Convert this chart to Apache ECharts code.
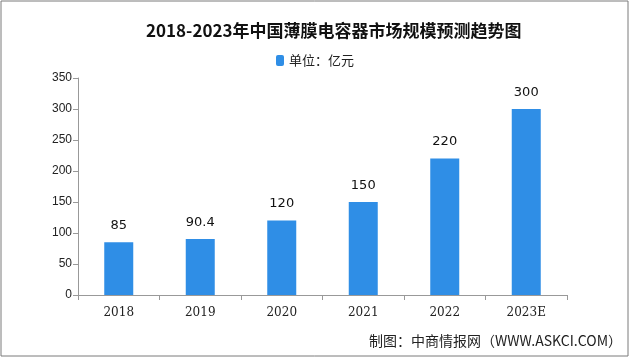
<!DOCTYPE html>
<html><head><meta charset="utf-8">
<script src="https://cdn.jsdelivr.net/npm/echarts@6/dist/echarts.min.js"></script>
<style>html,body{margin:0;padding:0;background:#fff}#c{width:640px;height:358px}</style>
</head><body><div id="c"></div>
<script>
const categories = ['2018','2019','2020','2021','2022','2023E'];
const values = [85, 90.4, 120, 150, 220, 300];
const valueLabels = ['85','90.4','120','150','220','300'];
const yTicks = [0,50,100,150,200,250,300,350];
const titleText = '2018-2023年中国薄膜电容器市场规模预测趋势图';
const seriesName = '单位：亿元';
const sourceText = '制图：中商情报网（WWW.ASKCI.COM）';

const chart = echarts.init(document.getElementById('c'));
chart.setOption({
  animation: false,
  title: {
    text: titleText, left: 141, top: 17,
    textStyle: {fontFamily: '"Noto Sans CJK SC", sans-serif', fontSize: 17, fontWeight: 'bold', color: '#111'}
  },
  legend: {
    data: [seriesName], left: 271, top: 49, itemWidth: 8, itemHeight: 11, itemGap: 4,
    textStyle: {fontFamily: '"Noto Sans CJK SC", sans-serif', fontSize: 13, color: '#222'}
  },
  graphic: [
    {type: 'rect', shape: {x: 1, y: 1, width: 627, height: 355}, style: {fill: 'none', stroke: '#7a7a7a', lineWidth: 1}, silent: true},
    {type: 'text', right: 18, top: 334, style: {text: sourceText, font: '14px "Noto Sans CJK SC", sans-serif', fill: '#222'}}
  ],
  grid: {left: 78, right: 73, top: 78, bottom: 63},
  xAxis: {
    type: 'category', data: categories, boundaryGap: true,
    axisLine: {lineStyle: {color: '#999'}},
    axisTick: {show: true, alignWithLabel: false, lineStyle: {color: '#999'}},
    axisLabel: {color: '#222', fontSize: 12, fontFamily: '"DejaVu Serif", serif', margin: 12}
  },
  yAxis: {
    type: 'value', min: 0, max: 350, interval: 50,
    axisLine: {show: true, lineStyle: {color: '#999'}},
    axisTick: {show: true, lineStyle: {color: '#999'}},
    splitLine: {show: false},
    axisLabel: {color: '#222', fontSize: 12, fontFamily: 'Arial, "Liberation Sans", sans-serif', margin: 6,
      formatter: v => yTicks.includes(v) ? String(v) : ''}
  },
  series: [{
    name: seriesName, type: 'bar', data: values, barWidth: 29,
    itemStyle: {color: '#2f8ee6'},
    label: {show: true, position: 'top', distance: 10, color: '#111', fontSize: 13,
      fontFamily: '"DejaVu Sans", sans-serif',
      formatter: p => valueLabels[p.dataIndex]}
  }]
});
</script></body></html>
